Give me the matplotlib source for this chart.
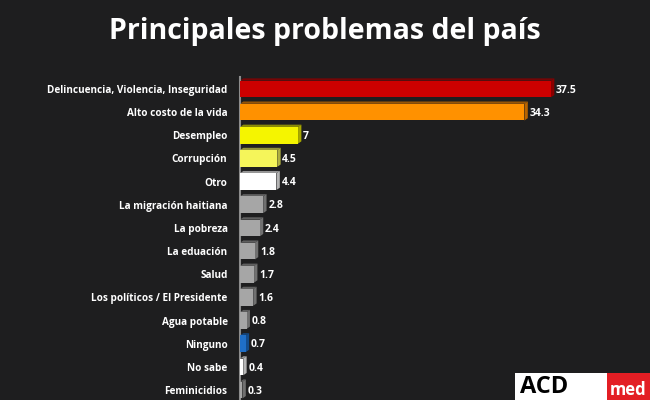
import matplotlib.pyplot as plt
from matplotlib.patches import Polygon, Rectangle

categorias = [
    "Delincuencia, Violencia, Inseguridad",
    "Alto costo de la vida",
    "Desempleo",
    "Corrupción",
    "Otro",
    "La migración haitiana",
    "La pobreza",
    "La eduación",
    "Salud",
    "Los políticos / El Presidente",
    "Agua potable",
    "Ninguno",
    "No sabe",
    "Feminicidios",
]
valores = [37.5, 34.3, 7, 4.5, 4.4, 2.8, 2.4, 1.8, 1.7, 1.6, 0.8, 0.7, 0.4, 0.3]
etiquetas = ["37.5", "34.3", "7", "4.5", "4.4", "2.8", "2.4", "1.8", "1.7", "1.6", "0.8", "0.7", "0.4", "0.3"]
colores = ["#cc0000", "#ff9100", "#f5f500", "#f5f55a", "#ffffff",
           "#a6a6a6", "#a6a6a6", "#a6a6a6", "#a6a6a6", "#a6a6a6",
           "#a6a6a6", "#1f6fc8", "#ffffff", "#a6a6a6"]
sombras = ["#8a0000", "#b86400", "#a8a800", "#b0b040", "#b5b5b5",
           "#707070", "#707070", "#707070", "#707070", "#707070",
           "#707070", "#134c8c", "#b5b5b5", "#707070"]

fondo = "#1e1e1f"
plt.rcParams["font.family"] = ["Open Sans", "DejaVu Sans"]

fig = plt.figure(figsize=(6.5, 4), dpi=100, facecolor=fondo)
ax = fig.add_axes([240 / 650, 0, 1 - 240 / 650 - 0.04, 0.8065])
ax.set_facecolor(fondo)

n = len(valores)
alto = 0.72
prof_x = 0.4   # profundidad del efecto 3D en unidades de datos
prof_y = 0.1
for i, (v, c, s) in enumerate(zip(valores, colores, sombras)):
    # cara lateral derecha y tapa superior para simular 3D
    lado = Polygon([[v, i - alto / 2], [v + prof_x, i - alto / 2 - prof_y],
                    [v + prof_x, i + alto / 2 - prof_y], [v, i + alto / 2]],
                   closed=True, facecolor=s, edgecolor="none", zorder=2)
    tapa = Polygon([[0, i - alto / 2], [prof_x, i - alto / 2 - prof_y],
                    [v + prof_x, i - alto / 2 - prof_y], [v, i - alto / 2]],
                   closed=True, facecolor=s, edgecolor="none", alpha=0.8, zorder=2)
    ax.add_patch(lado)
    ax.add_patch(tapa)
    ax.barh(i, v, height=alto, color=c, zorder=3)
    ax.text(v + prof_x + 0.2, i + 0.05, etiquetas[i], color="white", fontsize=7.5,
            fontweight="bold", va="center", ha="left", zorder=4)

ax.set_ylim(13.43, -0.5)
ax.set_xlim(0, 46.3)
ax.set_yticks(range(n))
ax.set_yticklabels(categorias, color="white", fontsize=7.2, fontweight="bold")
ax.tick_params(axis="y", length=0, pad=9)
ax.set_xticks([])
for lado in ["top", "right", "bottom"]:
    ax.spines[lado].set_visible(False)
ax.spines["left"].set_color("#8c8c8c")
ax.spines["left"].set_linewidth(1.5)

fig.text(0.5, 0.922, "Principales problemas del país", color="white",
         fontsize=20.5, fontweight="bold", ha="center", va="center")

# logo en la esquina inferior derecha
fig.patches.append(Rectangle((515 / 650, 0), 92 / 650, 27 / 400, transform=fig.transFigure,
                             facecolor="white", edgecolor="none", zorder=5))
fig.patches.append(Rectangle((607 / 650, 0), 43 / 650, 27 / 400, transform=fig.transFigure,
                             facecolor="#e31e24", edgecolor="none", zorder=5))
fig.text(520 / 650, 0.003, "ACD", color="black", fontsize=17, fontweight="bold",
         ha="left", va="bottom", zorder=6)
fig.text(610 / 650, 0.003, "med", color="white", fontsize=12, fontweight="bold",
         ha="left", va="bottom", zorder=6)

fig.savefig("out.png", dpi=100, facecolor=fondo)
